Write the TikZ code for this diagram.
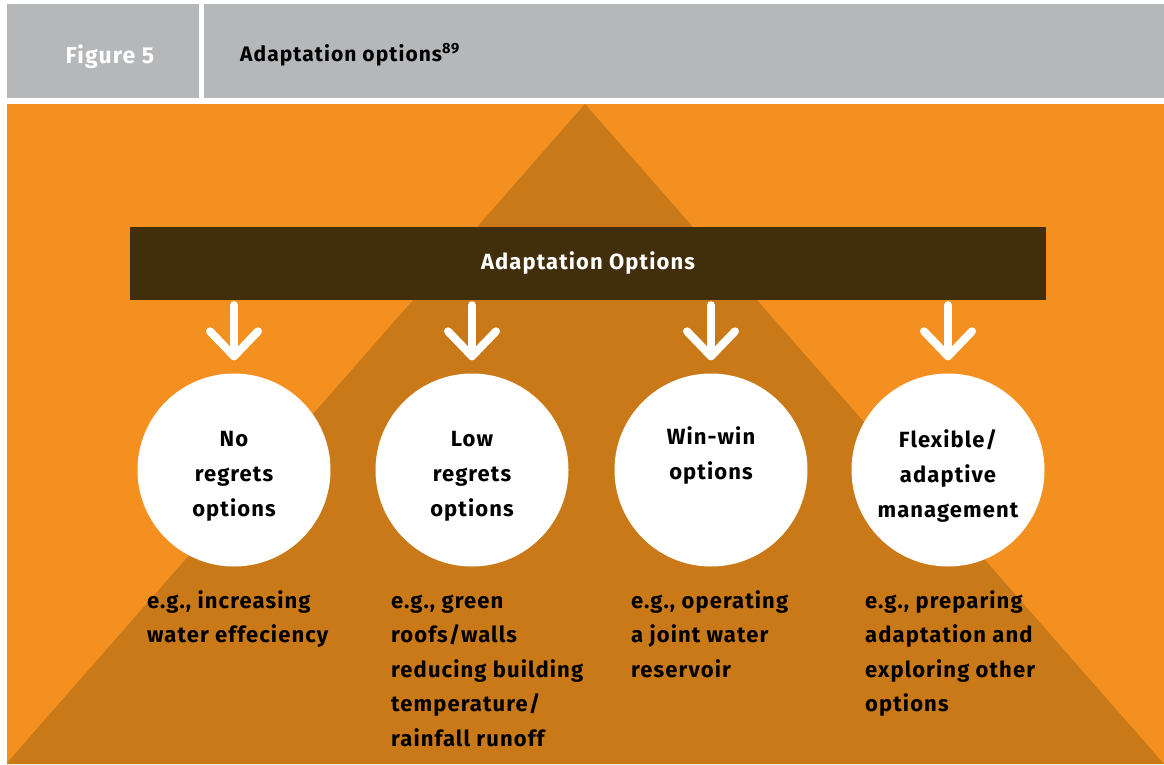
\documentclass[tikz,border=0pt]{standalone}
\usepackage{fontspec}
\setmainfont{Fira Sans}[LetterSpace=5]
\usetikzlibrary{calc}
\definecolor{hdrgray}{HTML}{B6B7B9}
\definecolor{orng}{HTML}{F39020}
\definecolor{darkorng}{HTML}{C97918}
\definecolor{barbrown}{HTML}{412F0C}
\begin{document}
\begin{tikzpicture}[x=1pt,y=-1pt,
  txt/.style={font=\fontsize{22}{34.5}\selectfont\bfseries, text=black, align=left, anchor=north west, inner sep=0pt},
  bubble/.style={circle, fill=white, minimum size=193pt, inner sep=0pt},
  ctext/.style={align=center, inner sep=0pt, font=\fontsize{22}{35}\selectfont\bfseries},
  arr/.style={white, line width=8pt, line cap=round, line join=round}]
\useasboundingbox (0,0) rectangle (1164,764);
\fill[white] (0,0) rectangle (1164,764);
\fill[hdrgray] (7,4) rectangle (199,98);
\fill[hdrgray] (204,4) rectangle (1164,98);
\fill[orng] (7,104) rectangle (1164,764);
\begin{scope}
\clip (7,104) rectangle (1164,764);
\fill[darkorng] (585,104) -- (6,764) -- (1164,764) -- cycle;
\end{scope}
\node[font=\fontsize{23}{26}\selectfont\bfseries, text=white] (fig) at (110,57) {Figure 5};
\node[font=\fontsize{21}{26}\selectfont\bfseries, anchor=west, inner sep=0pt] (title) at (240,55) {Adaptation options\textsuperscript{89}};
\node[fill=barbrown, minimum width=916pt, minimum height=73pt, inner sep=0pt, text=white, font=\fontsize{22}{26}\selectfont\bfseries] (bar) at (588,263.5) {Adaptation Options};
\node[bubble] (c1) at (234,470) {};
\node[bubble] (c2) at (472,470) {};
\node[bubble] (c3) at (711,470) {};
\node[bubble] (c4) at (948,470) {};
\node[ctext] (l1) at ([yshift=-6pt]c1.center) {No\\regrets\\options};
\node[ctext] (l2) at ([yshift=-6pt]c2.center) {Low\\regrets\\options};
\node[ctext] (l3) at ([yshift=-6pt]c3.center) {Win-win\\options\\\strut};
\node[ctext] (l4) at ([yshift=-6pt]c4.center) {Flexible/\\adaptive\\management};
\foreach \i in {1,...,4}{
  \coordinate (t\i) at ([yshift=17pt]c\i.north);
  \draw[arr] ([yshift=-5pt]c\i.north |- bar.south) -- (t\i);
  \draw[arr] ($(t\i)+(-24,-25)$) -- (t\i) -- ($(t\i)+(24,-25)$);
}
\node[txt] (e1) at (147,590) {\vphantom{i}e.g., increasing\\water effeciency};
\node[txt] (e2) at (391,590) {\vphantom{i}e.g., green\\roofs/walls\\reducing building\\temperature/\\rainfall runoff};
\node[txt] (e3) at (631,590) {\vphantom{i}e.g., operating\\a joint water\\reservoir};
\node[txt] (e4) at (865,590) {\vphantom{i}e.g., preparing\\adaptation and\\exploring other\\options};
\end{tikzpicture}
\end{document}
